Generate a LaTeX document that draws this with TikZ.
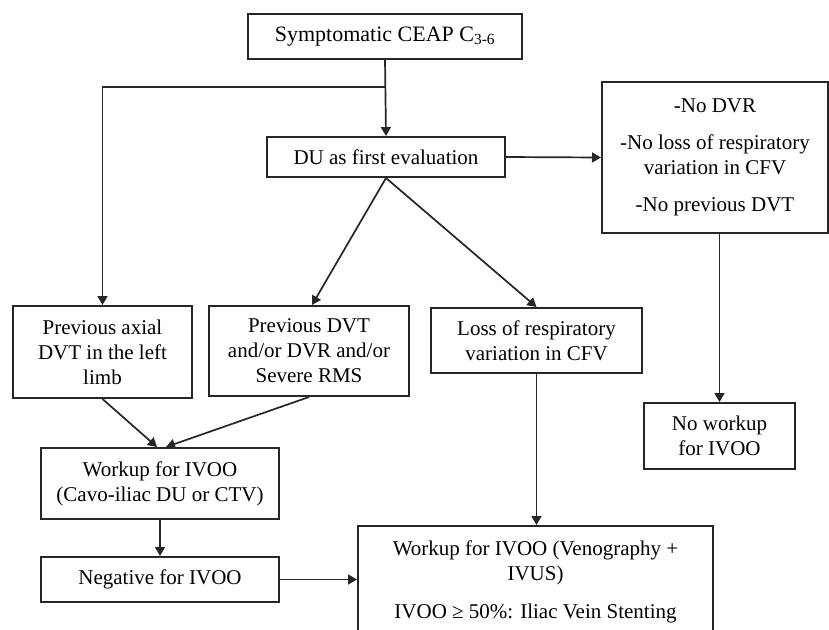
\documentclass[tikz,border=0pt]{standalone}
\usepackage{fontspec}
\setmainfont{Liberation Serif}
\usetikzlibrary{arrows.meta,calc}
\begin{document}
\begin{tikzpicture}[x=1pt,y=-1pt,
  box/.style={draw=black!85, line width=2pt, rectangle, inner sep=0pt, align=center,
    font=\fontsize{21}{25}\selectfont},
  conn/.style={draw=black!85, line width=1.7pt},
  arr/.style={conn, -{Triangle[length=9pt,width=10pt]}}]
\useasboundingbox (0,0) rectangle (829,629);
\clip (0,0) rectangle (829,629);
\fill[white] (0,0) rectangle (829,629);

\node[box, minimum width=274pt, minimum height=45pt, font=\fontsize{22}{25}\selectfont] (top) at (385,36.5) {Symptomatic CEAP C\textsubscript{3-6}};
\node[box, minimum width=238pt, minimum height=40pt] (du) at (386,157) {DU as first evaluation};
\node[box, minimum width=226pt, minimum height=151pt] (nodvr) at (715,157.5) {-No DVR\\[12pt]-No loss of respiratory\\variation in CFV\\[12pt]-No previous DVT};
\node[box, minimum width=179pt, minimum height=92pt] (axial) at (102.5,352) {Previous axial\\DVT in the left\\limb};
\node[box, minimum width=200pt, minimum height=90pt] (prevdvt) at (309,351) {Previous DVT\\and/or DVR and/or\\Severe RMS};
\node[box, minimum width=211pt, minimum height=65pt] (loss) at (536.5,340.5) {Loss of respiratory\\variation in CFV};
\node[box, minimum width=151pt, minimum height=66pt] (noworkup) at (719.5,436) {No workup\\for IVOO};
\node[box, minimum width=238pt, minimum height=71pt] (workup) at (160,483.5) {Workup for IVOO\\(Cavo-iliac DU or CTV)};
\node[box, minimum width=238pt, minimum height=45pt] (negative) at (160,579.5) {Negative for IVOO};
\node[box, minimum width=355pt, minimum height=180pt, anchor=north] (venog) at (535.5,525) {};
\node[box, draw=none, anchor=north] (venogtxt) at ($(venog.north)+(0,15)$) {Workup for IVOO (Venography +\\IVUS)\\[13pt]IVOO ≥ 50\%: Iliac Vein Stenting};

\coordinate (split) at (top.south |- 0,87);
\draw[arr] (top.south) -- (du.north);
\draw[arr] (split) -| (axial.north);
\draw[arr] (du.east) -- (nodvr.west);
\draw[arr] (du.south) -- ($(prevdvt.north)+(3,0)$);
\draw[arr] (du.south) -- (loss.north);
\draw[arr] (noworkup.north |- nodvr.south) -- (noworkup.north);
\draw[arr] (loss.south) -- (loss.south |- venog.north);
\draw[arr] (axial.south) -- ($(workup.north)+(-3,0)$);
\draw[arr] (prevdvt.south) -- ($(workup.north)+(6,0)$);
\draw[arr] (workup.south) -- (negative.north);
\draw[arr] (negative.east) -- (negative.east -| venog.west);
\end{tikzpicture}
\end{document}
